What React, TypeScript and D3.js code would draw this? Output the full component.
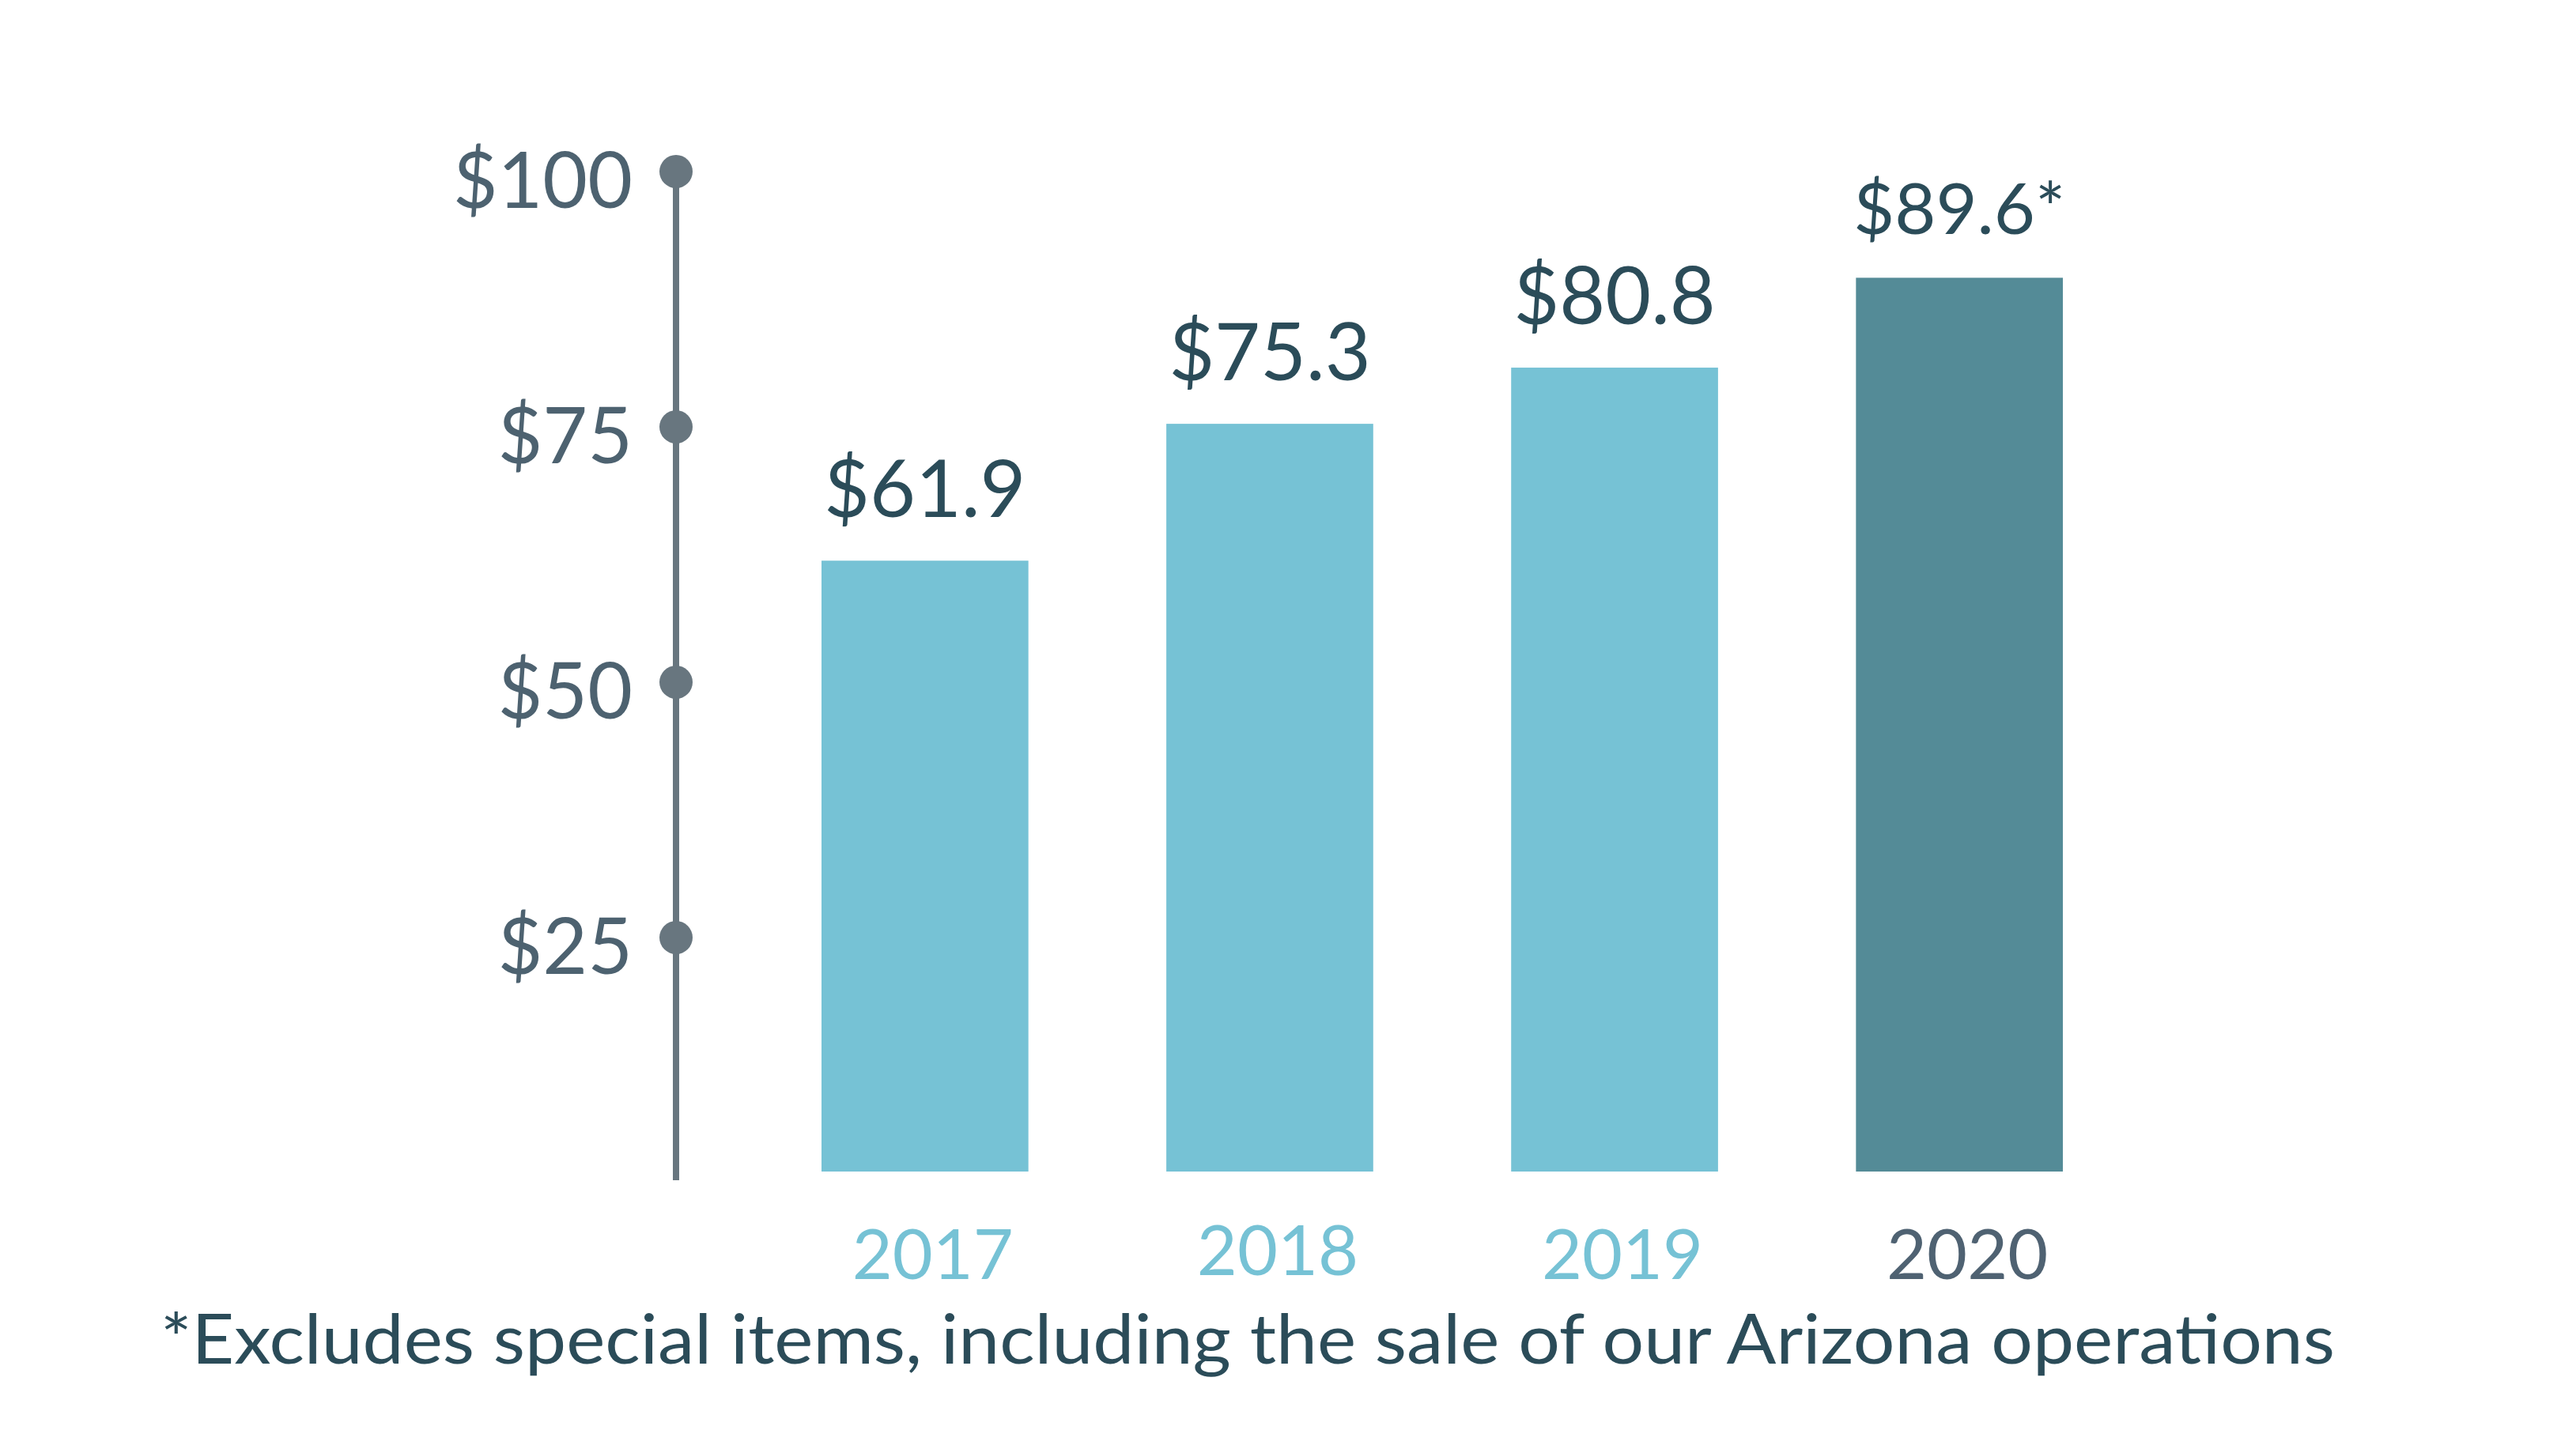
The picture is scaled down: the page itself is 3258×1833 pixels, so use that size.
import React, { useEffect, useRef } from "react";
import * as d3 from "d3";

const YEARS = ["2017", "2018", "2019", "2020"];
const VALUES = [61.9, 75.3, 80.8, 89.6];
const VALUE_LABELS = ["$61.9", "$75.3", "$80.8", "$89.6*"];
const TICKS = [25, 50, 75, 100];
const FOOTNOTE = "*Excludes special items, including the sale of our Arizona operations";

const W = 3258;
const H = 1833;
const FONT = "Lato, 'Open Sans', sans-serif";

export default function App() {
  const ref = useRef<SVGSVGElement | null>(null);

  useEffect(() => {
    const svg = d3.select(ref.current);
    svg.selectAll("*").remove();

    const y = d3.scaleLinear().domain([0, 100]).range([1509, 217]);
    const x = d3.scaleBand<string>().domain(YEARS).range([1039, 2609]).paddingInner(0.4);
    const floor = 1482;
    const axisX = 855;

    // axis line + dots
    svg.append("line")
      .attr("x1", axisX).attr("x2", axisX)
      .attr("y1", y(100)).attr("y2", 1493)
      .attr("stroke", "#68767f").attr("stroke-width", 8);

    const tick = svg.selectAll("g.tick").data(TICKS).enter().append("g").attr("class", "tick");
    tick.append("circle")
      .attr("cx", axisX).attr("cy", (d) => y(d)).attr("r", 21)
      .attr("fill", "#68767f");
    tick.append("text")
      .attr("x", 800).attr("y", (d) => y(d) + 46)
      .attr("text-anchor", "end")
      .attr("font-family", FONT).attr("font-size", 98)
      .attr("fill", "#4d6270")
      .text((d) => `$${d}`);

    // bars
    svg.selectAll("rect.bar").data(VALUES).enter().append("rect")
      .attr("class", "bar")
      .attr("x", (_, i) => x(YEARS[i])!)
      .attr("width", x.bandwidth())
      .attr("y", (d) => y(d))
      .attr("height", (d) => floor - y(d))
      .attr("fill", (_, i) => (i === VALUES.length - 1 ? "#548b97" : "#76c2d5"));

    // value labels
    svg.selectAll("text.val").data(VALUES).enter().append("text")
      .attr("class", "val")
      .attr("x", (_, i) => x(YEARS[i])! + x.bandwidth() / 2)
      .attr("y", (d) => y(d) - 55)
      .attr("text-anchor", "middle")
      .attr("font-family", FONT)
      .attr("font-size", (_, i) => (i === VALUES.length - 1 ? 90 : 100))
      .attr("fill", "#2b4c59")
      .text((_, i) => VALUE_LABELS[i]);

    // year labels
    svg.selectAll("text.year").data(YEARS).enter().append("text")
      .attr("class", "year")
      .attr("x", (d) => x(d)! + x.bandwidth() / 2 + 10)
      .attr("y", (d) => (d === "2018" ? 1613 : 1618))
      .attr("text-anchor", "middle")
      .attr("font-family", FONT).attr("font-size", 88)
      .attr("fill", (_, i) => (i === YEARS.length - 1 ? "#4f6272" : "#76c2d5"))
      .text((d) => d);

    // footnote
    svg.append("text")
      .attr("x", 203).attr("y", 1725)
      .attr("font-family", FONT).attr("font-size", 88)
      .attr("fill", "#2b4c59")
      .attr("textLength", 2750)
      .attr("lengthAdjust", "spacingAndGlyphs")
      .text(FOOTNOTE);
  }, []);

  return (
    <div style={{ position: "absolute", left: 0, top: 0, width: W, height: H, background: "#fff" }}>
      <svg ref={ref} width={W} height={H} style={{ display: "block" }} />
    </div>
  );
}
